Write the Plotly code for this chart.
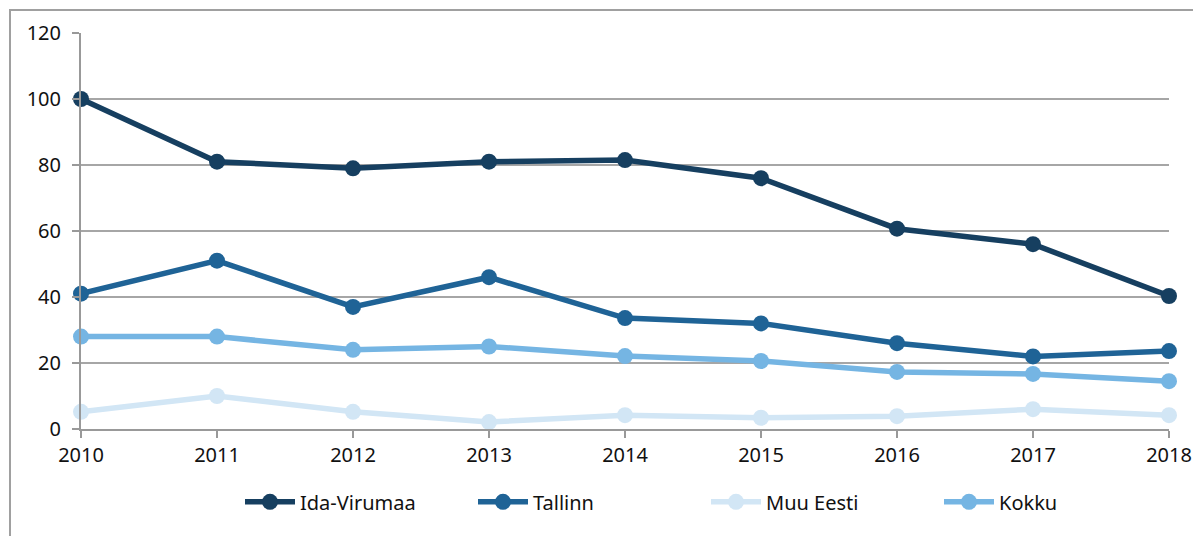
import plotly.graph_objects as go

years = [2010, 2011, 2012, 2013, 2014, 2015, 2016, 2017, 2018]
ida_virumaa = [100, 81, 79, 81, 81.5, 76, 60.7, 56, 40.3]
tallinn = [41, 51, 37, 46, 33.6, 32, 26, 22, 23.6]
muu_eesti = [5.2, 10, 5.2, 2.1, 4.2, 3.4, 3.9, 6, 4.2]
kokku = [28, 28, 24, 25, 22.1, 20.6, 17.3, 16.7, 14.5]

series = [
    ("Ida-Virumaa", ida_virumaa, "#163f60"),
    ("Tallinn", tallinn, "#1f6396"),
    ("Muu Eesti", muu_eesti, "#d2e6f5"),
    ("Kokku", kokku, "#75b5e3"),
]

fig = go.Figure()
for name, vals, col in series:
    fig.add_trace(go.Scatter(
        x=years, y=vals, name=name, mode="lines+markers",
        line=dict(color=col, width=5.5),
        marker=dict(color=col, size=16),
        cliponaxis=False,
    ))

# page body has an 8px margin; compensate so the plot lands where the reference has it
off = 8
fig.update_layout(
    width=1201, height=536,
    margin=dict(l=81 - off, r=32 + off, t=33 - off, b=107 + off, autoexpand=False),
    paper_bgcolor="white", plot_bgcolor="white",
    font=dict(family="Noto Sans", size=20, color="#111111"),
    showlegend=True,
    legend=dict(orientation="h", x=(240 - 81) / 1088, xanchor="left", y=-0.184, yanchor="middle",
                font=dict(size=20), entrywidth=168, itemwidth=50),
    xaxis=dict(range=[2010, 2018], tickvals=years, showgrid=False,
               showline=True, linecolor="#999999", linewidth=2,
               ticks="outside", ticklen=7, tickcolor="#999999", tickwidth=2,
               zeroline=False, tickfont=dict(size=20)),
    yaxis=dict(range=[0, 120], dtick=20, showgrid=True, gridcolor="#a6a6a6", gridwidth=2,
               showline=True, linecolor="#999999", linewidth=2,
               ticks="outside", ticklen=7, tickcolor="#999999", tickwidth=2,
               ticklabelstandoff=7,
               zeroline=False, tickfont=dict(size=20)),
    shapes=[dict(type="rect", xref="paper", yref="paper",
                 x0=(10 - 81) / 1088, x1=1.2, y0=-0.6, y1=(429 - 10) / 396,
                 line=dict(color="#a0a0a0", width=2), layer="below")],
)

fig.write_html("out.html")
